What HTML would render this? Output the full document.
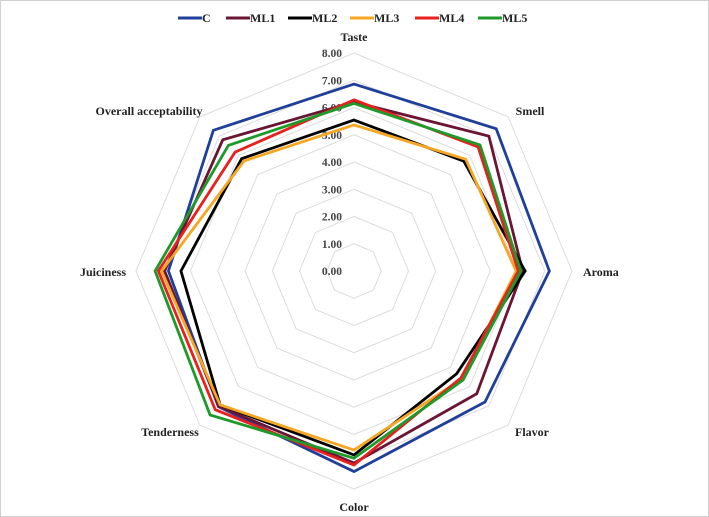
<!DOCTYPE html>
<html><head><meta charset="utf-8"><style>
body{margin:0;background:#fff}
svg{display:block;font-family:"Liberation Serif",serif;font-weight:bold}
</style></head><body>
<svg id="chart" width="709" height="517">
<rect x="0.5" y="0.5" width="708" height="516" fill="#fff" stroke="#d0d0d0"/>
<g id="grid"></g><g id="series"></g><g id="labels"></g><g id="legend"></g>
</svg>
<script>
const categories=["Taste","Smell","Aroma","Flavor","Color","Tenderness","Juiciness","Overall acceptability"];
const seriesNames=["C","ML1","ML2","ML3","ML4","ML5"];
const seriesColors=["#1f3f9a","#6b1535","#000000","#f5a623","#e8201e","#1e9a2a"];
const valC=[6.86,7.38,7.17,6.8,7.36,7.04,6.81,7.3];
const valML1=[6.2,7.0,6.19,6.37,7.05,7.02,6.95,6.81];
const valML2=[5.54,5.7,6.28,5.33,6.75,6.95,6.35,5.83];
const valML3=[5.36,5.8,5.95,5.6,6.57,6.95,7.06,5.71];
const valML4=[6.28,6.44,6.03,5.55,7.12,7.2,7.18,6.17];
const valML5=[6.15,6.54,6.12,5.66,6.87,7.47,7.3,6.52];
const ticks=["0.00","1.00","2.00","3.00","4.00","5.00","6.00","7.00","8.00"];
const values=[valC,valML1,valML2,valML3,valML4,valML5];
const cx=354,cy=271,R=218,maxV=8,NS="http://www.w3.org/2000/svg";
function ang(i){return -Math.PI/2+i*2*Math.PI/categories.length;}
function pt(i,v){const r=v/maxV*R;return [cx+r*Math.cos(ang(i)),cy+r*Math.sin(ang(i))];}
function mk(t,a,p){const e=document.createElementNS(NS,t);for(const k in a)e.setAttribute(k,a[k]);p.appendChild(e);return e;}
const grid=document.getElementById('grid');
for(let k=1;k<ticks.length;k++){
 const v=parseFloat(ticks[k]);
 const e=mk('polygon',{points:categories.map((c,i)=>pt(i,v).join(',')).join(' '),fill:'none',stroke:'#dcdcdc','stroke-width':1},grid);
 
 
}
for(let k=0;k<ticks.length;k++){
 const v=parseFloat(ticks[k]);
 const t=mk('text',{x:cx-12,y:cy-v/maxV*R+4,'text-anchor':'end','font-size':11.5,fill:'#444'},grid);
 t.textContent=ticks[k];
 
 
}
const sg=document.getElementById('series');
values.forEach((vals,s)=>{
 const e=mk('polygon',{points:vals.map((v,i)=>pt(i,v).join(',')).join(' '),fill:'none',stroke:seriesColors[s],'stroke-width':2.8,'stroke-linejoin':'miter'},sg);
 
 
});
const lg=document.getElementById('labels');
const labelPos=[[354,41,'middle'],[530,115,'middle'],[583,276,'start'],[532,436,'middle'],[354,511,'middle'],[170,436,'middle'],[126,276,'end'],[149,115,'middle']];
categories.forEach((c,i)=>{
 const p=labelPos[i];
 const t=mk('text',{x:p[0],y:p[1],'text-anchor':p[2],'font-size':12,fill:'#222'},lg);
 t.textContent=c;
 
 
});
const leg=document.getElementById('legend');
const lx=[178,226,288,350,415,478];
seriesNames.forEach((n,s)=>{
 const g=mk('g',{},leg);
 
 
 mk('line',{x1:lx[s],y1:18,x2:lx[s]+24,y2:18,stroke:seriesColors[s],'stroke-width':3},g);
 const t=mk('text',{x:lx[s]+24,y:22,'font-size':12,fill:'#222'},g);
 t.textContent=n;
});
</script>
</body></html>
